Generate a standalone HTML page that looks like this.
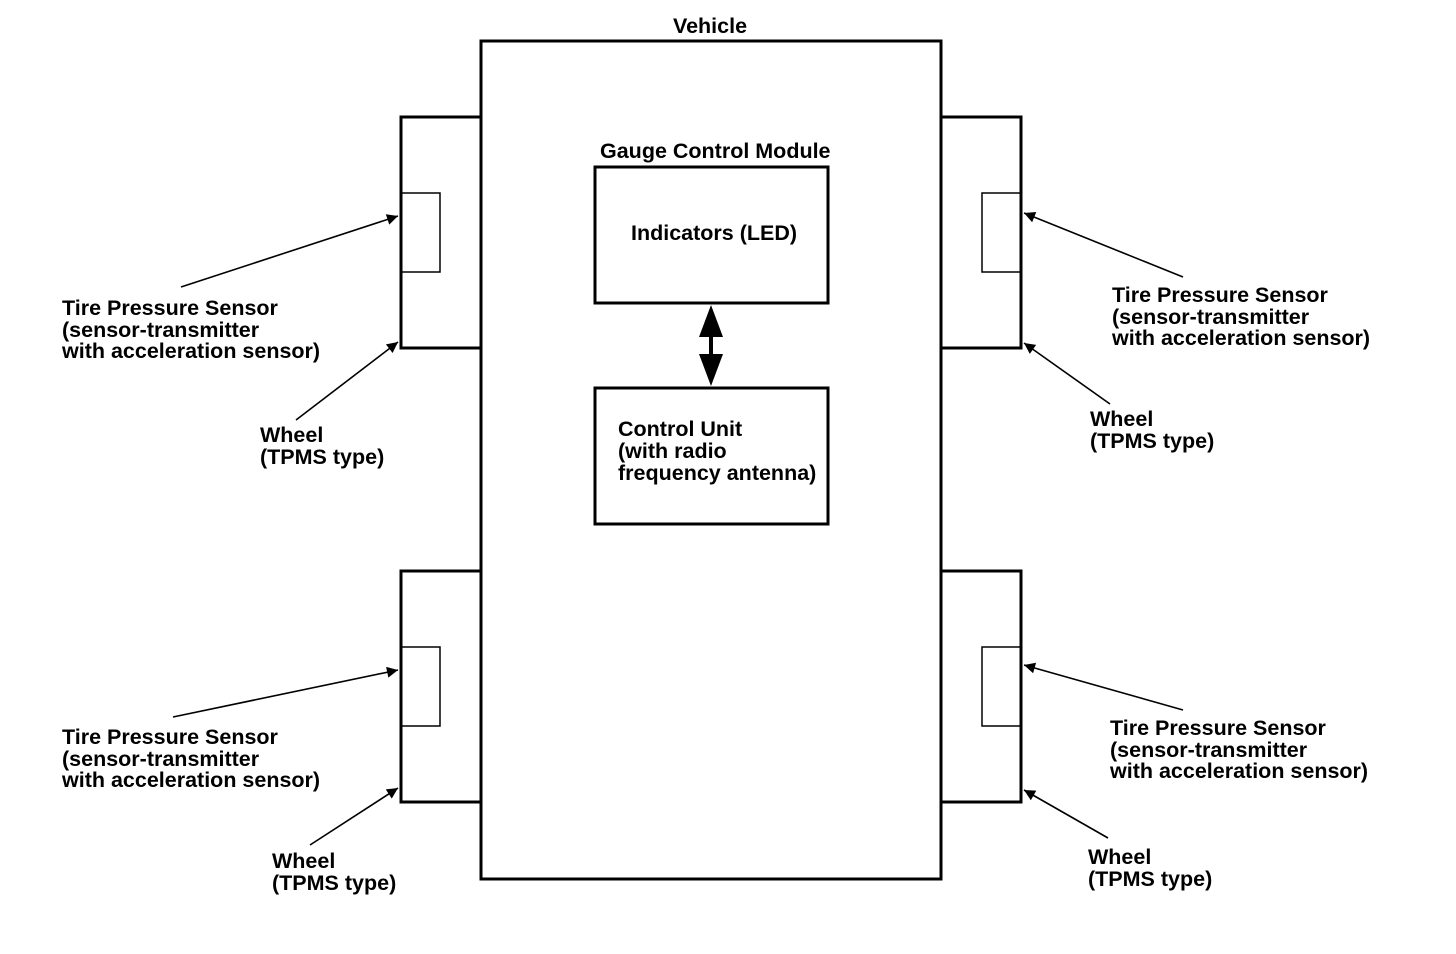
<!DOCTYPE html>
<html><head><meta charset="utf-8"><style>
body{margin:0;background:#fff}
svg{display:block}
text{font-family:"Liberation Sans",sans-serif;font-weight:bold;font-size:21.5px;fill:#000}
</style></head><body>
<svg width="1456" height="954" viewBox="0 0 1456 954" xmlns="http://www.w3.org/2000/svg">
<defs>
<marker id="a" viewBox="0 0 10 10" refX="10" refY="5" markerWidth="20" markerHeight="11" markerUnits="userSpaceOnUse" orient="auto"><path d="M0,0 L10,5 L0,10 z" fill="#000"/></marker>
</defs>
<g fill="none" stroke="#000">
<rect x="481" y="41" width="460" height="838" stroke-width="3"/>
<rect x="401" y="117" width="80" height="231" stroke-width="3"/>
<rect x="401" y="193" width="39" height="79" stroke-width="1.5"/>
<rect x="941" y="117" width="80" height="231" stroke-width="3"/>
<rect x="982" y="193" width="39" height="79" stroke-width="1.5"/>
<rect x="401" y="571" width="80" height="231" stroke-width="3"/>
<rect x="401" y="647" width="39" height="79" stroke-width="1.5"/>
<rect x="941" y="571" width="80" height="231" stroke-width="3"/>
<rect x="982" y="647" width="39" height="79" stroke-width="1.5"/>
<rect x="595" y="167" width="233" height="136" stroke-width="3"/>
<rect x="595" y="388" width="233" height="136" stroke-width="3"/>
<line x1="711" y1="330" x2="711" y2="362" stroke-width="4"/>
</g>
<path d="M711,305 L699,337 L723,337 z M711,386 L699,354 L723,354 z" fill="#000"/>
<g stroke="#000" stroke-width="1.6" marker-end="url(#a)">
<line x1="181" y1="287" x2="398" y2="216"/>
<line x1="296" y1="420" x2="398" y2="342"/>
<line x1="1183" y1="277" x2="1024" y2="213"/>
<line x1="1110" y1="404" x2="1024" y2="343"/>
<line x1="173" y1="717" x2="398" y2="670"/>
<line x1="310" y1="845" x2="398" y2="788"/>
<line x1="1183" y1="710" x2="1024" y2="665"/>
<line x1="1108" y1="838" x2="1024" y2="790"/>
</g>
<text x="710" y="33" text-anchor="middle">Vehicle</text>
<text x="600" y="158">Gauge Control Module</text>
<text x="631" y="240">Indicators (LED)</text>
<text x="618" y="436">Control Unit</text>
<text x="618" y="458">(with radio</text>
<text x="618" y="480">frequency antenna)</text>
<text x="62" y="315">Tire Pressure Sensor</text>
<text x="62" y="337">(sensor-transmitter</text>
<text x="62" y="358">with acceleration sensor)</text>
<text x="260" y="442">Wheel</text>
<text x="260" y="464">(TPMS type)</text>
<text x="1112" y="302">Tire Pressure Sensor</text>
<text x="1112" y="324">(sensor-transmitter</text>
<text x="1112" y="345">with acceleration sensor)</text>
<text x="1090" y="426">Wheel</text>
<text x="1090" y="448">(TPMS type)</text>
<text x="62" y="744">Tire Pressure Sensor</text>
<text x="62" y="766">(sensor-transmitter</text>
<text x="62" y="787">with acceleration sensor)</text>
<text x="272" y="868">Wheel</text>
<text x="272" y="890">(TPMS type)</text>
<text x="1110" y="735">Tire Pressure Sensor</text>
<text x="1110" y="757">(sensor-transmitter</text>
<text x="1110" y="778">with acceleration sensor)</text>
<text x="1088" y="864">Wheel</text>
<text x="1088" y="886">(TPMS type)</text>
</svg>
</body></html>
